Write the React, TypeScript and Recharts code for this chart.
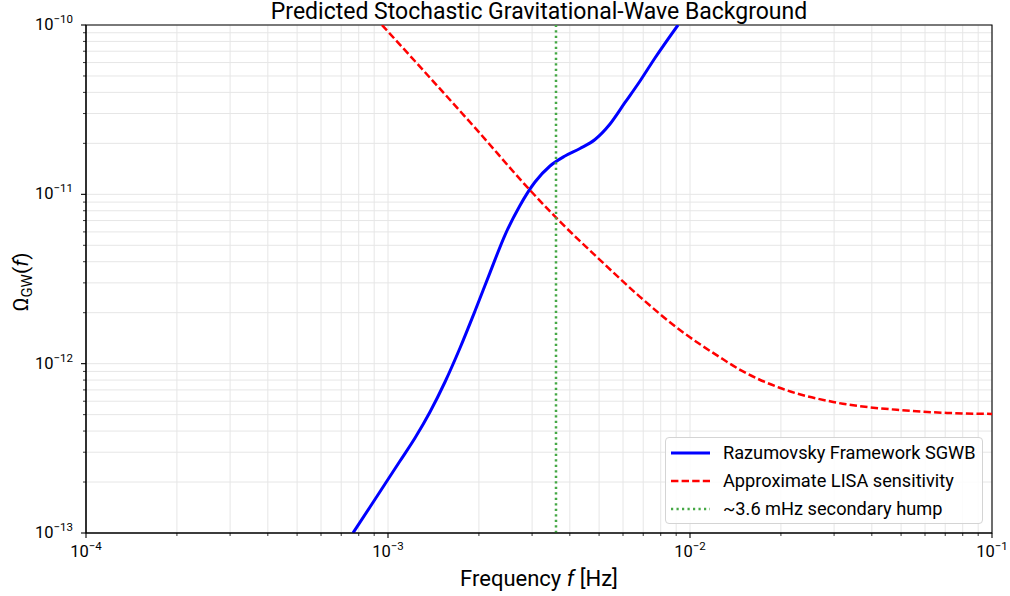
import React from "react";
import {
  LineChart,
  Line,
  XAxis,
  YAxis,
  CartesianGrid,
  ReferenceLine,
  ReferenceArea,
  Legend,
} from "recharts";

// ---- Data ----
const sgwbFreq = [
  7.657e-4, 8.718e-4, 9.774e-4, 1.0958e-3, 1.2284e-3, 1.3772e-3, 1.5442e-3,
  1.7314e-3, 1.9413e-3, 2.1766e-3, 2.4401e-3, 2.7355e-3, 3.0671e-3, 3.4392e-3,
  3.856e-3, 4.3233e-3, 4.8474e-3, 5.4351e-3, 6.0939e-3, 6.8327e-3, 7.6569e-3,
  9.1259e-3,
];
const sgwbOmega = [
  1e-13, 1.424e-13, 1.947e-13, 2.6615e-13, 3.639e-13, 5.183e-13, 7.7935e-13,
  1.2374e-12, 2.0468e-12, 3.45e-12, 5.75e-12, 8.6e-12, 1.1826e-11, 1.4701e-11,
  1.6838e-11, 1.8649e-11, 2.108e-11, 2.6023e-11, 3.4868e-11, 4.6706e-11, 6.386e-11,
  1e-10,
];

const lisaFreq = [
  9.55e-4, 1.306e-3, 1.97e-3, 2.95e-3, 3.72e-3, 5.04e-3, 6.83e-3, 9.26e-3,
  1.257e-2, 1.466e-2, 1.99e-2, 2.98e-2, 4.96e-2, 7.1e-2, 1e-1,
];
const lisaOmega = [
  1e-10, 5.42e-11, 2.4e-11, 1.06e-11, 6.87e-12, 4.09e-12, 2.48e-12, 1.58e-12,
  1.09e-12, 9.19e-13, 7.18e-13, 5.94e-13, 5.32e-13, 5.12e-13, 5.05e-13,
];

const humpFreq = 3.6e-3;

const xMajor = [1e-4, 1e-3, 1e-2, 1e-1];
const yMajor = [1e-13, 1e-12, 1e-11, 1e-10];
const minorSteps = [2, 3, 4, 5, 6, 7, 8, 9];

const legendItems = [
  { label: "Razumovsky Framework SGWB", color: "#0000ff", dash: "", width: 3 },
  { label: "Approximate LISA sensitivity", color: "#ff0000", dash: "7.4 3.2", width: 2.5 },
  { label: "~3.6 mHz secondary hump", color: "#45a845", dash: "2.2 3.3", width: 2.5 },
];

// ---- Helpers ----
const withMinors = (majors: number[]) => {
  const out: number[] = [];
  majors.forEach((m, i) => {
    out.push(m);
    if (i < majors.length - 1) minorSteps.forEach((s) => out.push(s * m));
  });
  return out;
};

const sgwbData = sgwbFreq.map((f, i) => ({ f, omega: sgwbOmega[i] }));
const lisaData = lisaFreq.map((f, i) => ({ f, omega: lisaOmega[i] }));

const FONT = "Roboto, 'Noto Sans', sans-serif";

const isMajor = (v: number) => {
  const l = Math.log10(v);
  return Math.abs(l - Math.round(l)) < 1e-6;
};

const XTick = (props: any) => {
  const { x, y, payload } = props;
  const v = payload.value;
  const major = isMajor(v);
  const e = Math.round(Math.log10(v));
  return (
    <g>
      <line x1={x} x2={x} y1={y} y2={y + (major ? 5 : 3)} stroke="#000" strokeWidth={major ? 1.1 : 0.8} />
      {major && (
        <text x={x} y={y + 24} textAnchor="middle" fontSize={16.5} fill="#000" fontFamily={FONT}>
          10
          <tspan dy={-7} fontSize={11.5}>
            {"\u2212" + Math.abs(e)}
          </tspan>
        </text>
      )}
    </g>
  );
};

const YTick = (props: any) => {
  const { x, y, payload } = props;
  const v = payload.value;
  const major = isMajor(v);
  const e = Math.round(Math.log10(v));
  return (
    <g>
      <line x1={x} x2={x - (major ? 5 : 3)} y1={y} y2={y} stroke="#000" strokeWidth={major ? 1.1 : 0.8} />
      {major && (
        <text x={x - 13} y={y + 5} textAnchor="end" fontSize={16.5} fill="#000" fontFamily={FONT}>
          10
          <tspan dy={-7} fontSize={11.5}>
            {"\u2212" + Math.abs(e)}
          </tspan>
        </text>
      )}
    </g>
  );
};

const LegendBox = () => (
  <div
    style={{
      position: "relative",
      width: 318,
      height: 87,
      boxSizing: "border-box",
      border: "1px solid #d4d4d4",
      borderRadius: 4,
      background: "rgba(255,255,255,0.85)",
      fontFamily: FONT,
      fontSize: 18.2,
      color: "#000",
    }}
  >
    {legendItems.map((it, i) => (
      <div
        key={it.label}
        style={{ position: "absolute", left: 4, top: 3 + i * 28, height: 24, display: "flex", alignItems: "center" }}
      >
        <svg width={40} height={24}>
          <line x1={1} x2={40} y1={12} y2={12} stroke={it.color} strokeWidth={it.width} strokeDasharray={it.dash} />
        </svg>
        <span style={{ marginLeft: 13, whiteSpace: "nowrap", lineHeight: "24px" }}>{it.label}</span>
      </div>
    ))}
  </div>
);

export default function App() {
  return (
    <div style={{ position: "absolute", left: 0, top: 0, width: 1010, height: 596, background: "#fff" }}>
      <LineChart width={1010} height={596} margin={{ top: 25, right: 18, left: 0, bottom: 0 }}>
        <CartesianGrid stroke="#e6e6e6" strokeWidth={1} />
        <XAxis
          dataKey="f"
          type="number"
          scale="log"
          domain={[1e-4, 1e-1]}
          ticks={withMinors(xMajor)}
          allowDataOverflow
          height={63}
          tickLine={false}
          tickSize={0}
          tickMargin={0}
          axisLine={{ stroke: "#000", strokeWidth: 1.1 }}
          tick={<XTick />}
          interval={0}
        />
        <YAxis
          dataKey="omega"
          type="number"
          scale="log"
          domain={[1e-13, 1e-10]}
          ticks={withMinors(yMajor)}
          allowDataOverflow
          width={86}
          tickLine={false}
          tickSize={0}
          tickMargin={0}
          axisLine={{ stroke: "#000", strokeWidth: 1.1 }}
          tick={<YTick />}
          interval={0}
        />
        <ReferenceArea x1={1e-4} x2={1e-1} y1={1e-13} y2={1e-10} fill="none" stroke="#000" strokeWidth={1.1} fillOpacity={0} />
        <Line
          data={sgwbData}
          dataKey="omega"
          type="monotone"
          stroke="#0000ff"
          strokeWidth={3}
          dot={false}
          activeDot={false}
          isAnimationActive={false}
        />
        <Line
          data={lisaData}
          dataKey="omega"
          type="monotone"
          stroke="#ff0000"
          strokeWidth={2.5}
          strokeDasharray="7.4 3.2"
          dot={false}
          activeDot={false}
          isAnimationActive={false}
        />
        <ReferenceLine x={humpFreq} stroke="#45a845" strokeWidth={2.5} strokeDasharray="2.2 3.3" />
        <Legend
          layout="vertical"
          align="center"
          verticalAlign="middle"
          wrapperStyle={{ left: 665, top: 437, width: 318, height: 87 }}
          content={() => <LegendBox />}
        />
      </LineChart>
      <svg
        width={1010}
        height={596}
        style={{ position: "absolute", left: 0, top: 0, pointerEvents: "none" }}
        fontFamily={FONT}
      >
        <text x={539} y={19} textAnchor="middle" fontSize={23} fill="#000">
          Predicted Stochastic Gravitational-Wave Background
        </text>
        <text x={539} y={586} textAnchor="middle" fontSize={22} fill="#000">
          Frequency <tspan fontStyle="italic">f</tspan> [Hz]
        </text>
        <text x={28} y={282} textAnchor="middle" fontSize={21} fill="#000" transform="rotate(-90 28 282)">
          Ω
          <tspan dy={4} fontSize={15}>
            GW
          </tspan>
          <tspan dy={-4}>(</tspan>
          <tspan fontStyle="italic">f</tspan>
          <tspan>)</tspan>
        </text>
      </svg>
    </div>
  );
}
